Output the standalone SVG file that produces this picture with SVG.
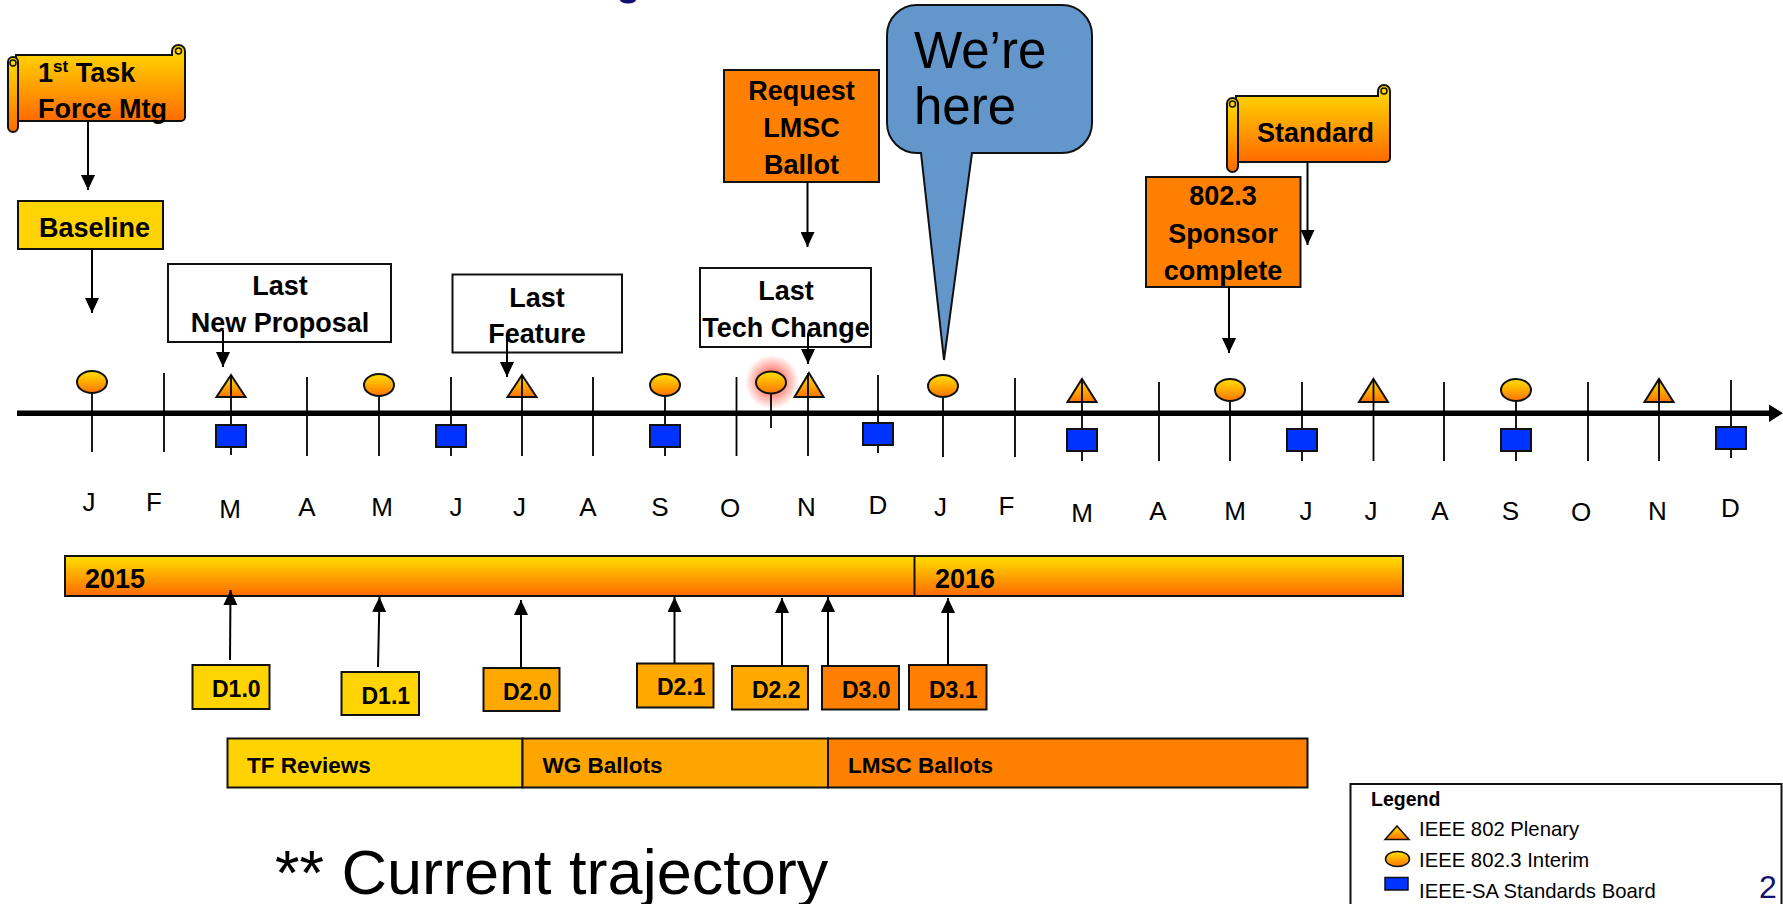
<svg xmlns="http://www.w3.org/2000/svg" width="1783" height="904" viewBox="0 0 1783 904">
<defs>
<linearGradient id="gOr" x1="0" y1="0" x2="0" y2="1"><stop offset="0" stop-color="#FFE000"/><stop offset="1" stop-color="#FF6A00"/></linearGradient>
<linearGradient id="gMk" x1="0" y1="0" x2="0" y2="1"><stop offset="0" stop-color="#FFE000"/><stop offset="1" stop-color="#FF7400"/></linearGradient>
<radialGradient id="gGlow"><stop offset="0.45" stop-color="#FF5A4A" stop-opacity="0.7"/><stop offset="1" stop-color="#FF5A4A" stop-opacity="0"/></radialGradient>
<marker id="ah" markerUnits="userSpaceOnUse" markerWidth="15" markerHeight="14" refX="15" refY="7" orient="auto"><path d="M0,0 L15,7 L0,14 Z" fill="#000"/></marker>
<style>
text{font-family:"Liberation Sans",Arial,sans-serif;fill:#000}
.b{font-weight:bold;font-size:27px}
.d{font-weight:bold;font-size:23px}
.p{font-weight:bold;font-size:22.5px}
.mo{font-size:26px}
.lg{font-size:20.3px}
.box{stroke:#111;stroke-width:2}
.wb{fill:#fff;stroke:#111;stroke-width:2}
.sc{fill:url(#gOr);stroke:#111;stroke-width:2}
.tk{stroke:#000;stroke-width:1.8}
.ci{fill:url(#gMk);stroke:#111;stroke-width:2}
.tr{fill:url(#gMk);stroke:#111;stroke-width:2}
.sq{fill:#0033FF;stroke:#111;stroke-width:2}
.cn{stroke:#000;stroke-width:2;fill:none;marker-end:url(#ah)}
</style>
</defs>
<rect width="1783" height="904" fill="#fff"/>
<ellipse cx="628" cy="0" rx="8" ry="3.5" fill="#101070"/>

<g id="task-force">
<path class="sc" d="M16,55 H172 V51 A6.5,6 0 0 1 185,51 V117 A4,4 0 0 1 181,121 H16 Z"/>
<circle cx="178.5" cy="51" r="3" fill="none" stroke="#111" stroke-width="1.5"/>
<rect class="sc" x="8" y="57" width="10" height="75" rx="5"/>
<circle cx="13" cy="63" r="3" fill="none" stroke="#111" stroke-width="1.5"/>
<text class="b" x="38" y="82">1<tspan font-size="17" dy="-10">st</tspan><tspan dy="10"> Task</tspan></text>
<text class="b" x="38" y="118">Force Mtg</text>
</g>

<g id="baseline">
<rect class="box" x="18" y="201" width="145" height="48" fill="#FFD400"/>
<text class="b" x="39" y="237">Baseline</text>
</g>

<g id="last-new-proposal">
<rect class="wb" x="168" y="264" width="223" height="78"/>
<text class="b" x="280" y="295" text-anchor="middle">Last</text>
<text class="b" x="280" y="332" text-anchor="middle">New Proposal</text>
</g>

<g id="last-feature">
<rect class="wb" x="452.5" y="274.5" width="169.5" height="78"/>
<text class="b" x="537" y="307" text-anchor="middle">Last</text>
<text class="b" x="537" y="343" text-anchor="middle">Feature</text>
</g>

<g id="request-lmsc">
<rect class="box" x="724" y="70" width="155" height="112" fill="#FF7F00"/>
<text class="b" x="801.5" y="100" text-anchor="middle">Request</text>
<text class="b" x="801.5" y="137" text-anchor="middle">LMSC</text>
<text class="b" x="801.5" y="174" text-anchor="middle">Ballot</text>
</g>

<g id="last-tech-change">
<rect class="wb" x="700" y="268" width="171" height="79"/>
<text class="b" x="786" y="300" text-anchor="middle">Last</text>
<text class="b" x="786" y="337" text-anchor="middle">Tech Change</text>
</g>

<g id="were-here">
<path d="M917,5 H1062 A30,30 0 0 1 1092,35 V123 A30,30 0 0 1 1062,153 H972 L944,360 L921,153 H917 A30,30 0 0 1 887,123 V35 A30,30 0 0 1 917,5 Z" fill="#6397CC" stroke="#111" stroke-width="2"/>
<text x="914" y="68" font-size="51">We’re</text>
<text x="914" y="124" font-size="51">here</text>
</g>

<g id="standard">
<path class="sc" d="M1236,96 H1378 V91 A6,6 0 0 1 1390,91 V158 A4,4 0 0 1 1386,162 H1236 Z"/>
<circle cx="1384" cy="91" r="3" fill="none" stroke="#111" stroke-width="1.5"/>
<rect class="sc" x="1227" y="98" width="11" height="74" rx="5.5"/>
<circle cx="1232.5" cy="104" r="3" fill="none" stroke="#111" stroke-width="1.5"/>
<text class="b" x="1257" y="142">Standard</text>
</g>

<g id="sponsor-complete">
<rect class="box" x="1146" y="177" width="154.5" height="110" fill="#FF7F00"/>
<text class="b" x="1223" y="205" text-anchor="middle">802.3</text>
<text class="b" x="1223" y="243" text-anchor="middle">Sponsor</text>
<text class="b" x="1223" y="280" text-anchor="middle">complete</text>
</g>

<g id="timeline">
<rect x="17" y="410.5" width="1755" height="5.5" fill="#000"/>
<path d="M1769,404.5 L1783,413.2 L1769,422 Z" fill="#000"/>
<circle cx="772" cy="382" r="27" fill="url(#gGlow)"/>
<path class="tr" d="M231,375 L245.5,397 L216.5,397 Z"/>
<path class="tr" d="M522,375 L536.5,397 L507.5,397 Z"/>
<path class="tr" d="M809,373 L823.5,397 L794.5,397 Z"/>
<path class="tr" d="M1082,379 L1096.5,402 L1067.5,402 Z"/>
<path class="tr" d="M1373.5,379 L1388,402 L1359,402 Z"/>
<path class="tr" d="M1659,379 L1673.5,402 L1644.5,402 Z"/>
<line class="tk" x1="92" y1="382" x2="92" y2="452"/>
<line class="tk" x1="164" y1="373" x2="164" y2="452"/>
<line class="tk" x1="231" y1="375" x2="231" y2="455"/>
<line class="tk" x1="307" y1="377" x2="307" y2="456"/>
<line class="tk" x1="379" y1="385" x2="379" y2="456"/>
<line class="tk" x1="451" y1="377" x2="451" y2="456"/>
<line class="tk" x1="522" y1="375" x2="522" y2="456"/>
<line class="tk" x1="593" y1="377" x2="593" y2="456"/>
<line class="tk" x1="665" y1="385" x2="665" y2="456"/>
<line class="tk" x1="736.5" y1="377" x2="736.5" y2="456"/>
<line class="tk" x1="771" y1="390" x2="771" y2="428"/>
<line class="tk" x1="808" y1="373" x2="808" y2="456"/>
<line class="tk" x1="878" y1="375" x2="878" y2="453"/>
<line class="tk" x1="943" y1="386" x2="943" y2="457"/>
<line class="tk" x1="1015" y1="378" x2="1015" y2="457"/>
<line class="tk" x1="1082" y1="379" x2="1082" y2="461"/>
<line class="tk" x1="1159" y1="382" x2="1159" y2="461"/>
<line class="tk" x1="1230" y1="390" x2="1230" y2="461"/>
<line class="tk" x1="1302" y1="382" x2="1302" y2="461"/>
<line class="tk" x1="1373.5" y1="379" x2="1373.5" y2="461"/>
<line class="tk" x1="1444" y1="382" x2="1444" y2="461"/>
<line class="tk" x1="1516" y1="390" x2="1516" y2="461"/>
<line class="tk" x1="1588" y1="382" x2="1588" y2="461"/>
<line class="tk" x1="1659" y1="379" x2="1659" y2="461"/>
<line class="tk" x1="1731" y1="380" x2="1731" y2="458"/>
<ellipse class="ci" cx="92" cy="382" rx="15" ry="11"/>
<ellipse class="ci" cx="379" cy="385" rx="15" ry="11"/>
<ellipse class="ci" cx="665" cy="385" rx="15" ry="11"/>
<ellipse class="ci" cx="771" cy="382.5" rx="15" ry="11"/>
<ellipse class="ci" cx="943" cy="386" rx="15" ry="11"/>
<ellipse class="ci" cx="1230" cy="390" rx="15" ry="11"/>
<ellipse class="ci" cx="1516" cy="390" rx="15" ry="11"/>
<rect class="sq" x="216" y="425" width="30" height="22"/>
<rect class="sq" x="436" y="425" width="30" height="22"/>
<rect class="sq" x="650" y="425" width="30" height="22"/>
<rect class="sq" x="863" y="423" width="30" height="22"/>
<rect class="sq" x="1067" y="429" width="30" height="22"/>
<rect class="sq" x="1287" y="429" width="30" height="22"/>
<rect class="sq" x="1501" y="429" width="30" height="22"/>
<rect class="sq" x="1716" y="427" width="30" height="22"/>
<g text-anchor="middle">
<text class="mo" x="89" y="511">J</text>
<text class="mo" x="154" y="511">F</text>
<text class="mo" x="230" y="518">M</text>
<text class="mo" x="307" y="516">A</text>
<text class="mo" x="382" y="516">M</text>
<text class="mo" x="456" y="516">J</text>
<text class="mo" x="519.5" y="516">J</text>
<text class="mo" x="588" y="516">A</text>
<text class="mo" x="660" y="516">S</text>
<text class="mo" x="730" y="517">O</text>
<text class="mo" x="806.5" y="516">N</text>
<text class="mo" x="878" y="514">D</text>
<text class="mo" x="940.5" y="516">J</text>
<text class="mo" x="1006.5" y="515">F</text>
<text class="mo" x="1082" y="522">M</text>
<text class="mo" x="1158" y="520">A</text>
<text class="mo" x="1235" y="520">M</text>
<text class="mo" x="1306" y="520">J</text>
<text class="mo" x="1371" y="520">J</text>
<text class="mo" x="1440" y="520">A</text>
<text class="mo" x="1510.5" y="520">S</text>
<text class="mo" x="1581" y="521">O</text>
<text class="mo" x="1657.5" y="520">N</text>
<text class="mo" x="1730.5" y="517">D</text>
</g>
</g>

<g id="year-bar">
<rect x="65" y="556" width="1338" height="40" fill="url(#gOr)" stroke="#111" stroke-width="2"/>
<line x1="914.5" y1="556" x2="914.5" y2="596" stroke="#111" stroke-width="2"/>
<text class="b" x="85" y="588" font-size="28">2015</text>
<text class="b" x="935" y="588" font-size="28">2016</text>
</g>

<g id="d10"><rect class="box" x="192.5" y="665" width="77" height="44" fill="#FFD400"/><text class="d" x="212" y="697">D1.0</text></g>
<g id="d11"><rect class="box" x="341.5" y="672" width="77.5" height="43" fill="#FFD400"/><text class="d" x="361.5" y="703.5">D1.1</text></g>
<g id="d20"><rect class="box" x="483.5" y="668" width="76" height="43" fill="#FFA800"/><text class="d" x="503" y="700">D2.0</text></g>
<g id="d21"><rect class="box" x="637" y="663.5" width="76.5" height="44" fill="#FFA800"/><text class="d" x="657" y="695">D2.1</text></g>
<g id="d22"><rect class="box" x="732" y="666" width="76" height="43.5" fill="#FFA800"/><text class="d" x="752" y="697.5">D2.2</text></g>
<g id="d30"><rect class="box" x="822" y="666" width="77" height="43.5" fill="#FF7F00"/><text class="d" x="842" y="697.5">D3.0</text></g>
<g id="d31"><rect class="box" x="909" y="665" width="77.5" height="44.5" fill="#FF7F00"/><text class="d" x="929" y="697.5">D3.1</text></g>

<g id="phases">
<rect class="box" x="227.5" y="738.5" width="295" height="49" fill="#FFD300"/>
<rect class="box" x="522.5" y="738.5" width="305.5" height="49" fill="#FFA500"/>
<rect class="box" x="828" y="738.5" width="479.5" height="49" fill="#FF7F00"/>
<text class="p" x="247" y="773">TF Reviews</text>
<text class="p" x="542.5" y="773">WG Ballots</text>
<text class="p" x="848" y="773">LMSC Ballots</text>
</g>

<g id="connectors">
<line class="cn" x1="88" y1="121" x2="88" y2="190"/>
<line class="cn" x1="92" y1="249" x2="92" y2="313"/>
<line class="cn" x1="223" y1="330" x2="223" y2="367"/>
<line class="cn" x1="507" y1="335" x2="507" y2="377"/>
<line class="cn" x1="807.5" y1="182" x2="807.5" y2="247"/>
<line class="cn" x1="808" y1="333" x2="808" y2="364"/>
<line class="cn" x1="1307.5" y1="162" x2="1307.5" y2="245"/>
<line class="cn" x1="1229" y1="287" x2="1229" y2="353"/>
<line class="cn" x1="230" y1="660" x2="230.5" y2="590"/>
<line class="cn" x1="378" y1="667" x2="379.5" y2="597"/>
<line class="cn" x1="521" y1="668" x2="521" y2="600"/>
<line class="cn" x1="674.5" y1="663" x2="674.5" y2="597"/>
<line class="cn" x1="782" y1="666" x2="782" y2="598"/>
<line class="cn" x1="828" y1="666" x2="828" y2="597"/>
<line class="cn" x1="948" y1="665" x2="948" y2="598"/>
</g>

<g id="note">
<text x="275" y="894" font-size="63">** Current trajectory</text>
</g>

<g id="legend">
<rect x="1350.5" y="784" width="431" height="130" fill="#fff" stroke="#111" stroke-width="2"/>
<text x="1371" y="806" font-size="19.5" font-weight="bold">Legend</text>
<path d="M1397,826 L1409,839.5 L1385,839.5 Z" fill="url(#gMk)" stroke="#111" stroke-width="1.5"/>
<text class="lg" x="1419" y="835.5">IEEE 802 Plenary</text>
<ellipse cx="1397.5" cy="859" rx="12" ry="7.5" fill="url(#gMk)" stroke="#111" stroke-width="1.5"/>
<text class="lg" x="1419" y="867">IEEE 802.3 Interim</text>
<rect x="1385" y="877.5" width="23" height="12.5" fill="#0033FF" stroke="#111" stroke-width="1.5"/>
<text class="lg" x="1419" y="898">IEEE-SA Standards Board</text>
</g>

<text x="1759" y="898" font-size="32" style="fill:#14146E">2</text>
</svg>
